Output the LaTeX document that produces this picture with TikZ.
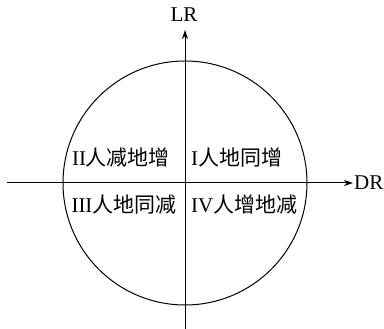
\documentclass[tikz,border=0pt]{standalone}
\usepackage{fontspec}
\setmainfont{Liberation Serif}
\newfontfamily\cjk{Noto Sans CJK SC}
\usetikzlibrary{arrows.meta}
\begin{document}
\begin{tikzpicture}[x=1pt,y=1pt,
  axis/.style={line width=1pt,-{Stealth[length=9pt,width=6pt]}},
  lbl/.style={font=\fontsize{21}{23}\selectfont,inner sep=0pt},
  qlbl/.style={font=\fontsize{21}{23}\selectfont,inner sep=0pt}]
\useasboundingbox (0,0) rectangle (384,329);
\coordinate (c) at (185,146);
\coordinate (xl) at (7,146);
\coordinate (xr) at (353,146);
\coordinate (yb) at (185,0);
\coordinate (yt) at (185,299);
\draw[line width=1pt] (c) circle[radius=122];
\draw[axis] (xl) -- (xr);
\draw[axis] (yb) -- (yt);
\node[lbl] (lr) at (184,314) {LR};
\node[lbl,anchor=west] (dr) at (354,146) {DR};
\node[qlbl] (q2) at (121,171) {II{\cjk 人减地增}};
\node[qlbl,anchor=west] (q1) at (191,171) {I{\cjk 人地同增}};
\node[qlbl] (q3) at (124,124) {III{\cjk 人地同减}};
\node[qlbl,anchor=west] (q4) at (191,124) {IV{\cjk 人增地减}};
\end{tikzpicture}
\end{document}
